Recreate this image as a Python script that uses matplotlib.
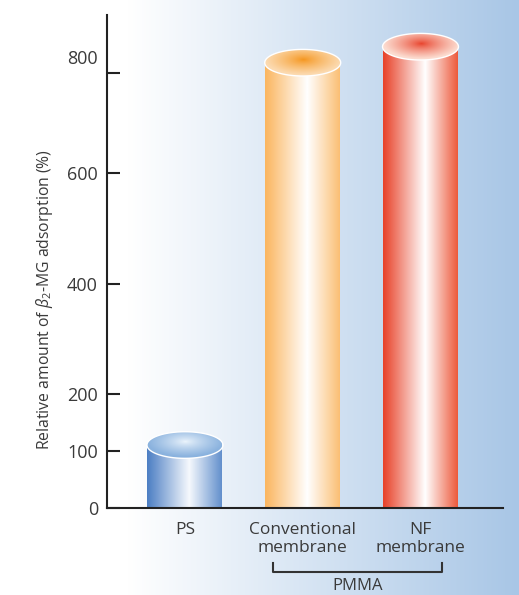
import numpy as np
import matplotlib.pyplot as plt
from matplotlib.colors import to_rgb
from matplotlib.patches import Polygon
from matplotlib.transforms import blended_transform_factory

plt.rcParams["font.family"] = ["Open Sans", "DejaVu Sans"]
plt.rcParams["mathtext.fontset"] = "custom"
plt.rcParams["mathtext.rm"] = "Open Sans"
plt.rcParams["mathtext.it"] = "Open Sans:italic"

categories = ["PS", "Conventional\nmembrane", "NF\nmembrane"]
adsorption = [110, 820, 852]
tick_values = [0, 100, 200, 400, 600, 800]
group_label = "PMMA"
ylabel = r"Relative amount of $\beta_2$-MG adsorption (%)"

# left edge, highlight, right edge of each cylinder body
body_colors = [
    ("#4d7fc4", "#f6f9fd", "#5c8bca"),
    ("#fbb660", "#ffffff", "#fbbc6e"),
    ("#e8432a", "#ffffff", "#ec5233"),
]
# centre, rim of the top face
top_colors = [
    ("#eef6fd", "#8ab2de"),
    ("#f5951c", "#fcdab0"),
    ("#e8412a", "#fcdcd0"),
]

# the printed axis is not quite linear: pixel height of each tick value
SCALE_VALS = [-100, 0, 100, 200, 400, 600, 800, 1200]
SCALE_PX = [-57, 0, 57, 113.7, 224, 335, 435, 635]


def forward(v):
    return np.interp(v, SCALE_VALS, SCALE_PX)


def inverse(p):
    return np.interp(p, SCALE_PX, SCALE_VALS)


def body_gradient(left, mid, right, n=200):
    pos = np.linspace(0, 1, n)
    stops = [0, 0.55, 1]
    cols = np.array([to_rgb(left), to_rgb(mid), to_rgb(right)])
    rgb = np.stack([np.interp(pos, stops, cols[:, k]) for k in range(3)], axis=-1)
    return rgb[np.newaxis, :, :]


def top_gradient(centre, rim, nx=120, ny=50):
    u = np.linspace(-1, 1, nx)[np.newaxis, :]
    w = np.linspace(-1, 1, ny)[:, np.newaxis]
    r = np.clip(np.sqrt(u ** 2 + (w - 0.2) ** 2 / 1.3), 0, 1) ** 0.8
    c0 = np.array(to_rgb(centre))
    c1 = np.array(to_rgb(rim))
    return c0 * (1 - r[..., None]) + c1 * r[..., None]


fig = plt.figure(figsize=(5.19, 5.95), dpi=100)

# background wash
bg = fig.add_axes([0, 0, 1, 1], zorder=-10)
xs = np.linspace(0, 519, 519)
t = np.clip((xs - 128) / (519 - 128), 0, 1)
c_end = np.array(to_rgb("#a8c6e6"))
wash = np.ones((1, 519, 3)) * (1 - t[None, :, None]) + c_end * t[None, :, None]
bg.imshow(wash, aspect="auto", extent=[0, 1, 0, 1])
bg.axis("off")

ax = fig.add_axes([107 / 519, 1 - 507.7 / 595, (502.7 - 107) / 519, (507.7 - 15) / 595])
ax.patch.set_alpha(0)
ax.set_yscale("function", functions=(forward, inverse))

x = np.arange(len(categories))
bar_w = 0.645
ry = 13.3
for xi, val, bc, tc in zip(x, adsorption, body_colors, top_colors):
    ax.imshow(body_gradient(*bc), aspect="auto", interpolation="bilinear",
              extent=[xi - bar_w / 2, xi + bar_w / 2, 0, val], zorder=2)
    fv = forward(val)
    theta = np.linspace(0, 2 * np.pi, 240)
    ex = xi + bar_w / 2 * np.cos(theta)
    ey = inverse(fv + ry * np.sin(theta))
    rim = Polygon(np.column_stack([ex, ey]), closed=True, facecolor="none",
                  edgecolor="white", linewidth=1.0, zorder=4)
    ax.add_patch(rim)
    img = ax.imshow(top_gradient(*tc), aspect="auto", interpolation="bilinear", origin="lower",
                    extent=[xi - bar_w / 2, xi + bar_w / 2, inverse(fv - ry), inverse(fv + ry)],
                    zorder=3)
    img.set_clip_path(rim)

ax.set_xlim(-0.662, 2.698)
ax.set_ylim(0, 915.4)

ax.spines["top"].set_visible(False)
ax.spines["right"].set_visible(False)
for side in ("left", "bottom"):
    ax.spines[side].set_color("#222222")
    ax.spines[side].set_linewidth(1.5)

ax.set_yticks(tick_values)
ax.set_yticklabels([str(v) if v != 800 else "" for v in tick_values])
ax.tick_params(axis="y", direction="in", length=9, width=1.5, color="#222222",
               pad=6.5, labelsize=13, labelcolor="#3a3a3a")
ax.annotate("800", xy=(0, 800), xycoords=("axes fraction", "data"),
            xytext=(-9, 13.5), textcoords="offset pixels", ha="right", va="center",
            fontsize=13, color="#3a3a3a")

ax.set_xticks(x)
ax.set_xticklabels(categories)
ax.tick_params(axis="x", length=0, pad=10, labelsize=12.5, labelcolor="#3a3a3a")

# PMMA bracket under the two PMMA membranes
trans = blended_transform_factory(ax.transData, ax.transAxes)
ax.plot([0.745, 0.745, 2.18, 2.18], [-0.113, -0.130, -0.130, -0.113],
        color="#333333", linewidth=1.5, transform=trans, clip_on=False)
ax.text(1.465, -0.1746, group_label, transform=trans, ha="center", va="bottom",
        fontsize=12, color="#3a3a3a")

fig.text(45 / 519, 1 - 299 / 595, ylabel, rotation=90, ha="center", va="center",
         fontsize=11.3, color="#3a3a3a")

fig.savefig("out.png", dpi=100)
